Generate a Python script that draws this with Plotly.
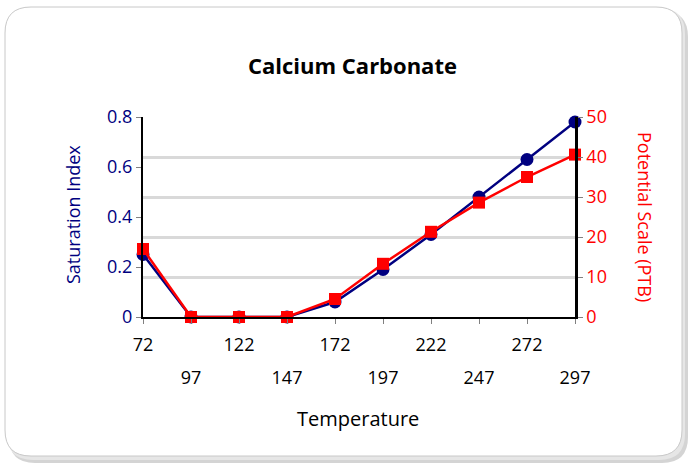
import plotly.graph_objects as go

temperature = [72, 97, 122, 147, 172, 197, 222, 247, 272, 297]
saturation_index = [0.25, 0.0, 0.0, 0.0, 0.06, 0.19, 0.33, 0.48, 0.63, 0.78]
potential_scale = [17, 0, 0, 0, 4.5, 13.3, 21.3, 28.6, 35.0, 40.6]
row1_labels = [t for i, t in enumerate(temperature) if i % 2 == 0]
row2_labels = [t for i, t in enumerate(temperature) if i % 2 == 1]

W, H = 688, 463
L, R, T, B = 143, 575, 117, 317
FONT = "Open Sans"
NAVY = "#000080"
RED = "#FF0000"

def px(x):
    return (x - L) / (R - L)

def py(y):
    return (B - y) / (B - T)

fig = go.Figure()
fig.add_trace(go.Scatter(x=temperature, y=saturation_index, mode="lines+markers",
                         line=dict(color=NAVY, width=2.5),
                         marker=dict(symbol="circle", size=13, color=NAVY),
                         yaxis="y", xaxis="x", cliponaxis=False, showlegend=False))
fig.add_trace(go.Scatter(x=temperature, y=potential_scale, mode="lines+markers",
                         line=dict(color=RED, width=2.5),
                         marker=dict(symbol="square", size=12, color=RED),
                         yaxis="y2", xaxis="x", cliponaxis=False, showlegend=False))

def rrect(x0, y0, x1, y1, r):
    X0, X1 = px(x0), px(x1)
    Y0, Y1 = py(y0), py(y1)
    rx = r / (R - L)
    ry = r / (B - T)
    return (f"M {X0+rx} {Y0} L {X1-rx} {Y0} Q {X1} {Y0} {X1} {Y0-ry} "
            f"L {X1} {Y1+ry} Q {X1} {Y1} {X1-rx} {Y1} "
            f"L {X0+rx} {Y1} Q {X0} {Y1} {X0} {Y1+ry} "
            f"L {X0} {Y0-ry} Q {X0} {Y0} {X0+rx} {Y0} Z")

shapes = [
    dict(type="path", xref="paper", yref="paper", path=rrect(9, 11, 688, 463, 26),
         fillcolor="#d4d4d4", line=dict(width=0), layer="below"),
    dict(type="path", xref="paper", yref="paper", path=rrect(7, 8, 685, 460, 26),
         fillcolor="#e6e6e6", line=dict(width=0), layer="below"),
    dict(type="path", xref="paper", yref="paper", path=rrect(5, 7, 682, 456, 26),
         fillcolor="white", line=dict(color="#c8c8c8", width=1), layer="below"),
]

def ann(text, x, y, size, color, angle=0):
    return dict(text=text, x=px(x), y=py(y), xref="paper", yref="paper",
                xanchor="center", yanchor="middle", textangle=angle,
                showarrow=False, font=dict(family=FONT, size=size, color=color))

annotations = [
    ann("Saturation Index", 73, 215, 18, NAVY, -90),
    ann("Potential Scale (PTB)", 645, 217, 18, RED, 90),
    ann("Temperature", 358, 418, 20, "black"),
    ann("<b>Calcium Carbonate</b>", 352, 65, 22, "black"),
]

fig.update_layout(
    width=W, height=H,
    margin=dict(l=L, r=W - R, t=T, b=H - B),
    paper_bgcolor="white", plot_bgcolor="rgba(0,0,0,0)",
    shapes=shapes, annotations=annotations,
    xaxis=dict(range=[72, 297], tickmode="array", tickvals=row1_labels + row2_labels,
               ticktext=[str(v) for v in row1_labels] + [""] * len(row2_labels),
               ticks="outside", ticklen=5, tickcolor="#808080", tickwidth=1,
               showline=True, linecolor="black", linewidth=2, showgrid=False,
               zeroline=False, tickfont=dict(family=FONT, size=18, color="black"),
               ticklabelstandoff=5),
    xaxis2=dict(range=[72, 297], overlaying="x", side="bottom", anchor="y",
                tickmode="array", tickvals=row2_labels,
                ticktext=[str(v) for v in row2_labels], ticks="", showline=False,
                showgrid=False, zeroline=False,
                tickfont=dict(family=FONT, size=18, color="black"),
                ticklabelstandoff=48),
    yaxis=dict(range=[0, 0.8], tickvals=[0, 0.2, 0.4, 0.6, 0.8],
               ticktext=["0", "0.2", "0.4", "0.6", "0.8"],
               ticks="outside", ticklen=5, tickcolor="#808080",
               showline=True, linecolor="black", linewidth=2, showgrid=False,
               zeroline=False, tickfont=dict(family=FONT, size=18, color=NAVY)),
    yaxis2=dict(range=[0, 50], tickvals=[0, 10, 20, 30, 40, 50], overlaying="y",
                side="right", anchor="x", ticks="outside", ticklen=5,
                tickcolor="#808080", showline=True, linecolor="black", linewidth=2.5,
                showgrid=True, gridcolor="#d9d9d9", gridwidth=2.5, zeroline=False,
                tickfont=dict(family=FONT, size=18, color=RED)),
)
fig.add_trace(go.Scatter(x=[72], y=[0], xaxis="x2", yaxis="y", mode="markers",
                         marker=dict(opacity=0), showlegend=False, hoverinfo="skip"))

fig.write_html("out.html", config={"displayModeBar": False},
               post_script="document.body.style.margin='0';")
